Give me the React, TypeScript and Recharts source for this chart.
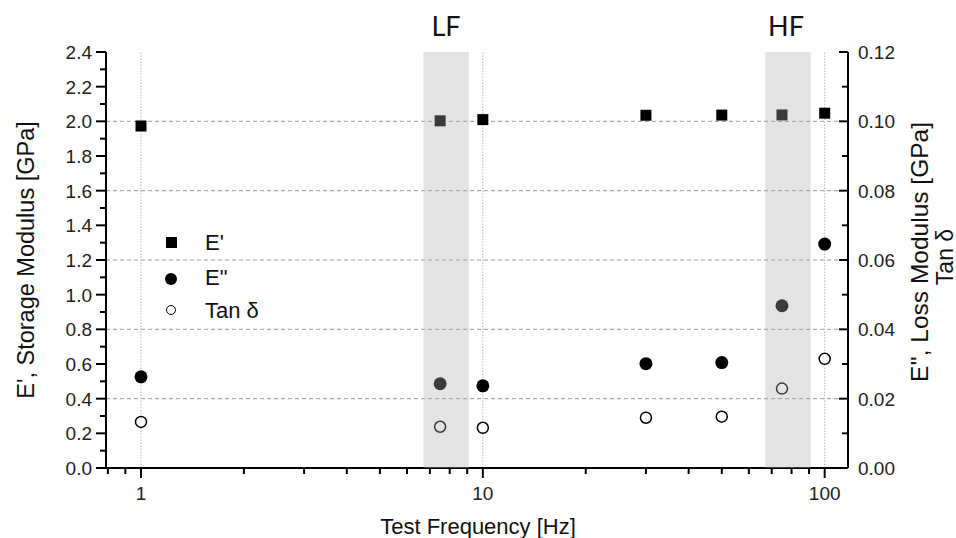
import React from 'react';
import {
  ComposedChart,
  Scatter,
  XAxis,
  YAxis,
  ReferenceLine,
  ReferenceArea,
} from 'recharts';

// test frequencies [Hz]
const freq = [1, 7.5, 10, 30, 50, 75, 100];
// E', storage modulus [GPa] (left axis)
const storage = [1.973, 2.003, 2.01, 2.035, 2.036, 2.037, 2.047];
// E'', loss modulus [GPa] (right axis)
const loss = [0.0263, 0.0243, 0.0237, 0.0301, 0.0304, 0.0468, 0.0646];
// tan delta (right axis)
const tanDelta = [0.0133, 0.0119, 0.0116, 0.0145, 0.0148, 0.0229, 0.0315];

const bands = [
  { name: 'LF', from: 6.7, to: 9.1 },
  { name: 'HF', from: 67, to: 91 },
];

const xTicks = [0.8, 0.9, 1, 2, 3, 4, 5, 6, 7, 8, 9, 10, 20, 30, 40, 50, 60, 70, 80, 90, 100];
const xLabels = [1, 10, 100];
const leftTicks = Array.from({ length: 25 }, (_, i) => +(i * 0.1).toFixed(1));
const rightTicks = Array.from({ length: 13 }, (_, i) => +(i * 0.01).toFixed(2));
const hGrid = [0.4, 0.8, 1.2, 1.6, 2.0];

const rows = freq.map((f, i) => ({ f, ep: storage[i], epp: loss[i], tan: tanDelta[i] }));

const FONT = '"Liberation Sans", Arial, sans-serif';

const XTick = ({ x, y, payload }: any) => {
  const major = xLabels.includes(payload.value);
  return (
    <g>
      <line x1={x} x2={x} y1={y} y2={y + (major ? 10 : 6)} stroke="#000" strokeWidth={2} />
      {major && (
        <text x={x} y={y + 32} textAnchor="middle" fontSize={19} fontFamily={FONT} fill="#222">
          {payload.value}
        </text>
      )}
    </g>
  );
};

const LeftTick = ({ x, y, payload }: any) => {
  const major = Math.round(payload.value * 10) % 2 === 0;
  return (
    <g>
      <line x1={x} x2={x - (major ? 10 : 6)} y1={y} y2={y} stroke="#000" strokeWidth={2} />
      {major && (
        <text x={x - 14} y={y + 7} textAnchor="end" fontSize={19} fontFamily={FONT} fill="#222">
          {payload.value.toFixed(1)}
        </text>
      )}
    </g>
  );
};

const RightTick = ({ x, y, payload }: any) => {
  const major = Math.round(payload.value * 100) % 2 === 0;
  return (
    <g>
      <line x1={x} x2={x - (major ? 9 : 6)} y1={y} y2={y} stroke="#000" strokeWidth={2} />
      {major && (
        <text x={x + 10} y={y + 7} textAnchor="start" fontSize={19} fontFamily={FONT} fill="#222">
          {payload.value.toFixed(2)}
        </text>
      )}
    </g>
  );
};

const Square = ({ cx, cy }: any) => <rect x={cx - 5.5} y={cy - 5.5} width={11} height={11} fill="#000" />;
const Dot = ({ cx, cy }: any) => <circle cx={cx} cy={cy} r={6.5} fill="#000" />;
const Ring = ({ cx, cy }: any) => <circle cx={cx} cy={cy} r={5.5} fill="#fff" stroke="#000" strokeWidth={1.5} />;

const txt: React.CSSProperties = {
  position: 'absolute',
  fontFamily: FONT,
  color: '#111',
  whiteSpace: 'nowrap',
  lineHeight: 1,
};

export default function App() {
  return (
    <div style={{ position: 'absolute', left: 0, top: 0, width: 956, height: 538, background: '#fff', overflow: 'hidden' }}>
      <ComposedChart width={956} height={538} data={rows} margin={{ top: 52, right: 48, bottom: 30, left: 46 }}>
        <XAxis
          dataKey="f"
          type="number"
          scale="log"
          domain={[0.79, 117]}
          allowDataOverflow
          ticks={xTicks}
          interval={0}
          tick={<XTick />}
          tickLine={false}
          tickSize={0}
          tickMargin={0}
          height={40}
          axisLine={{ stroke: '#000', strokeWidth: 2 }}
        />
        <YAxis
          yAxisId="left"
          type="number"
          domain={[0, 2.4]}
          ticks={leftTicks}
          interval={0}
          tick={<LeftTick />}
          tickLine={false}
          tickSize={0}
          tickMargin={0}
          width={60}
          axisLine={{ stroke: '#000', strokeWidth: 2 }}
        />
        <YAxis
          yAxisId="right"
          orientation="right"
          type="number"
          domain={[0, 0.12]}
          ticks={rightTicks}
          interval={0}
          tick={<RightTick />}
          tickLine={false}
          tickSize={0}
          tickMargin={0}
          width={60}
          axisLine={{ stroke: '#000', strokeWidth: 2 }}
        />
        {hGrid.map((v) => (
          <ReferenceLine key={'h' + v} yAxisId="left" y={v} stroke="#9a9a9a" strokeDasharray="4 3" strokeWidth={1} />
        ))}
        {xLabels.map((v) => (
          <ReferenceLine key={'v' + v} yAxisId="left" x={v} stroke="#b5b5b5" strokeDasharray="1.5 1.5" strokeWidth={1} />
        ))}
        <Scatter yAxisId="left" dataKey="ep" shape={<Square />} isAnimationActive={false} />
        <Scatter yAxisId="right" dataKey="epp" shape={<Dot />} isAnimationActive={false} />
        <Scatter yAxisId="right" dataKey="tan" shape={<Ring />} isAnimationActive={false} />
        {bands.map((b) => (
          <ReferenceArea
            key={b.name}
            yAxisId="left"
            x1={b.from}
            x2={b.to}
            y1={0}
            y2={2.4}
            fill="#acacac"
            fillOpacity={0.34}
            stroke="none"
            zIndex={1000}
          />
        ))}
      </ComposedChart>

      {/* band labels */}
      <div style={{ ...txt, left: 446, top: 25, transform: 'translate(-50%, -50%)', fontSize: 27, fontFamily: 'Lato, "Open Sans", sans-serif' }}>LF</div>
      <div style={{ ...txt, left: 786, top: 25, transform: 'translate(-50%, -50%)', fontSize: 27, fontFamily: 'Lato, "Open Sans", sans-serif' }}>HF</div>

      {/* legend */}
      <div style={{ position: 'absolute', left: 166, top: 237, width: 11, height: 11, background: '#000' }} />
      <div style={{ ...txt, left: 205, top: 243, transform: 'translateY(-50%)', fontSize: 22 }}>E'</div>
      <div style={{ position: 'absolute', left: 165, top: 273, width: 12, height: 12, borderRadius: 6, background: '#000' }} />
      <div style={{ ...txt, left: 205, top: 278, transform: 'translateY(-50%)', fontSize: 22 }}>E"</div>
      <div style={{ position: 'absolute', left: 166, top: 305, width: 8, height: 8, borderRadius: 5, border: '1.5px solid #000' }} />
      <div style={{ ...txt, left: 205, top: 311, transform: 'translateY(-50%)', fontSize: 22 }}>Tan δ</div>

      {/* axis titles */}
      <div style={{ ...txt, left: 27, top: 260, transform: 'translate(-50%, -50%) rotate(-90deg)', fontSize: 23.5 }}>
        E', Storage Modulus [GPa]
      </div>
      <div style={{ ...txt, left: 920, top: 252, transform: 'translate(-50%, -50%) rotate(-90deg)', fontSize: 24.5 }}>
        E'', Loss Modulus [GPa]
      </div>
      <div style={{ ...txt, left: 945, top: 257, transform: 'translate(-50%, -50%) rotate(-90deg)', fontSize: 23 }}>Tan δ</div>
      <div style={{ ...txt, left: 478, top: 527, transform: 'translate(-50%, -50%)', fontSize: 22 }}>Test Frequency [Hz]</div>
    </div>
  );
}
